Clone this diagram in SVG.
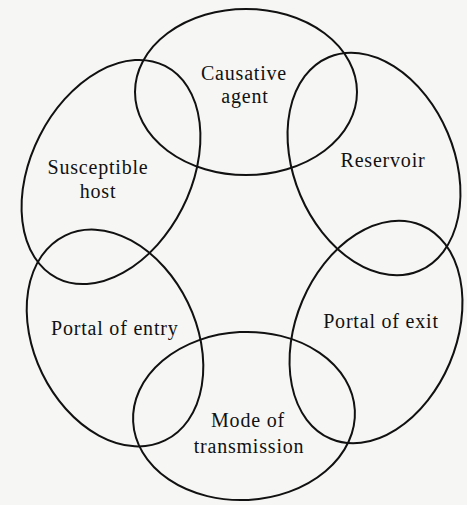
<svg xmlns="http://www.w3.org/2000/svg" width="467" height="505" viewBox="0 0 467 505">
<style>
.ring{fill:none;stroke:#111;stroke-width:2}
.lbl{font-family:"Liberation Serif","DejaVu Serif",serif;font-size:20px;fill:#111;text-anchor:middle;letter-spacing:0.8px}
</style>
<rect width="467" height="505" fill="#f6f6f4"/>
<g id="causative-agent">
<ellipse class="ring" cx="246" cy="92" rx="111" ry="83"/>
<text class="lbl" x="244" y="80">Causative</text>
<text class="lbl" x="245" y="103">agent</text>
</g>
<g id="reservoir">
<ellipse class="ring" cx="374" cy="164" rx="80" ry="116" transform="rotate(-23 374 164)"/>
<text class="lbl" x="383" y="167">Reservoir</text>
</g>
<g id="portal-of-exit">
<ellipse class="ring" cx="376" cy="332" rx="80" ry="116" transform="rotate(23 376 332)"/>
<text class="lbl" x="381" y="328">Portal of exit</text>
</g>
<g id="mode-of-transmission">
<ellipse class="ring" cx="244" cy="416" rx="111" ry="84" transform="rotate(-3 244 416)"/>
<text class="lbl" x="248" y="427">Mode of</text>
<text class="lbl" x="249" y="453">transmission</text>
</g>
<g id="portal-of-entry">
<ellipse class="ring" cx="115" cy="338" rx="81" ry="114" transform="rotate(-26 115 338)"/>
<text class="lbl" x="51" y="335" style="text-anchor:start">Portal of entry</text>
</g>
<g id="susceptible-host">
<ellipse class="ring" cx="111" cy="172" rx="80" ry="119" transform="rotate(27 111 172)"/>
<text class="lbl" x="98" y="174">Susceptible</text>
<text class="lbl" x="98" y="198">host</text>
</g>
</svg>
